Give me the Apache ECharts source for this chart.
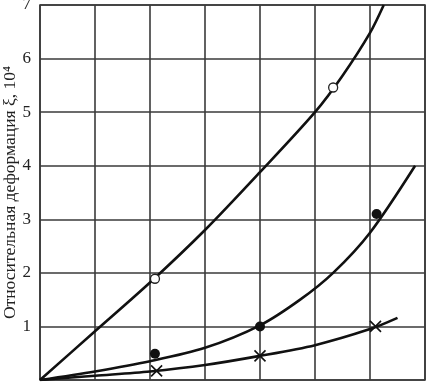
<!DOCTYPE html>
<html><head><meta charset="utf-8">
<script src="https://cdn.jsdelivr.net/npm/echarts@6/dist/echarts.min.js"></script>
<style>html,body{margin:0;padding:0;background:#fff}#c{width:427px;height:383px}</style>
</head><body><div id="c"></div>
<script>
var yTicks = [0, 1, 2, 3, 4, 5, 6, 7];
var yName = 'Относительная деформация ξ, 10⁴';
// curve 1 (open circles)
var curve1 = [[0,0],[1,0.91],[2,1.82],[3,2.8],[4,3.88],[5,5.0],[5.5,5.68],[6,6.48],[6.25,7.0]];
// curve 2 (filled circles)
var curve2 = [[0,0],[1,0.16],[2,0.35],[3,0.6],[4,1.02],[4.73,1.5],[5.33,2.0],[6,2.75],[6.82,4.0]];
// curve 3 (crosses)
var curve3 = [[0,0],[1,0.08],[2,0.16],[3,0.28],[4,0.45],[5,0.65],[6,0.95],[6.5,1.16]];
var openPts = [[2.09,1.89],[5.33,5.46]];
var filledPts = [[2.09,0.49],[4.0,1.0],[6.12,3.1]];
var crossPts = [[2.12,0.17],[4.0,0.45],[6.1,1.0]];

var chart = echarts.init(document.getElementById('c'), null, {renderer:'canvas'});
var gridLine = {show:true, lineStyle:{color:'#3a3a3a', width:1.6}};
var lineStyle = {color:'#111', width:2.6};
chart.setOption({
  animation:false,
  backgroundColor:'#fff',
  grid:{left:40, right:2, top:5, bottom:3, show:true, borderColor:'#3a3a3a', borderWidth:1.6,
    containLabel:false, outerBoundsMode:'none'},
  xAxis:{type:'value', min:0, max:7, interval:1,
    axisLine:{show:false}, axisTick:{show:false}, axisLabel:{show:false}, splitLine:gridLine},
  yAxis:{type:'value', min:0, max:7, interval:1,
    name:yName, nameLocation:'middle', nameGap:21, nameMoveOverlap:false,
    nameTextStyle:{fontFamily:'Liberation Serif', fontSize:17.5, color:'#222'},
    axisLine:{show:false}, axisTick:{show:false},
    axisLabel:{fontFamily:'Liberation Serif', fontSize:17, color:'#222', margin:9,
      formatter:function(v){return v===0?'':String(v);}},
    splitLine:gridLine},
  series:[
    {type:'line', data:curve1, smooth:0.3, showSymbol:false, lineStyle:lineStyle, z:3},
    {type:'line', data:curve2, smooth:0.3, showSymbol:false, lineStyle:lineStyle, z:3},
    {type:'line', data:curve3, smooth:0.3, showSymbol:false, lineStyle:lineStyle, z:3},
    {type:'scatter', data:openPts, symbol:'circle', symbolSize:9,
      itemStyle:{color:'#fff', borderColor:'#222', borderWidth:1.3, opacity:1}, z:5},
    {type:'scatter', data:filledPts, symbol:'circle', symbolSize:10,
      itemStyle:{color:'#111', opacity:1}, z:5},
    {type:'scatter', data:crossPts,
      symbol:'path://M0,0L10,10M10,0L0,10', symbolSize:11,
      itemStyle:{color:'none', borderColor:'#111', borderWidth:1.6, opacity:1}, z:5}
  ]
});
</script></body></html>
